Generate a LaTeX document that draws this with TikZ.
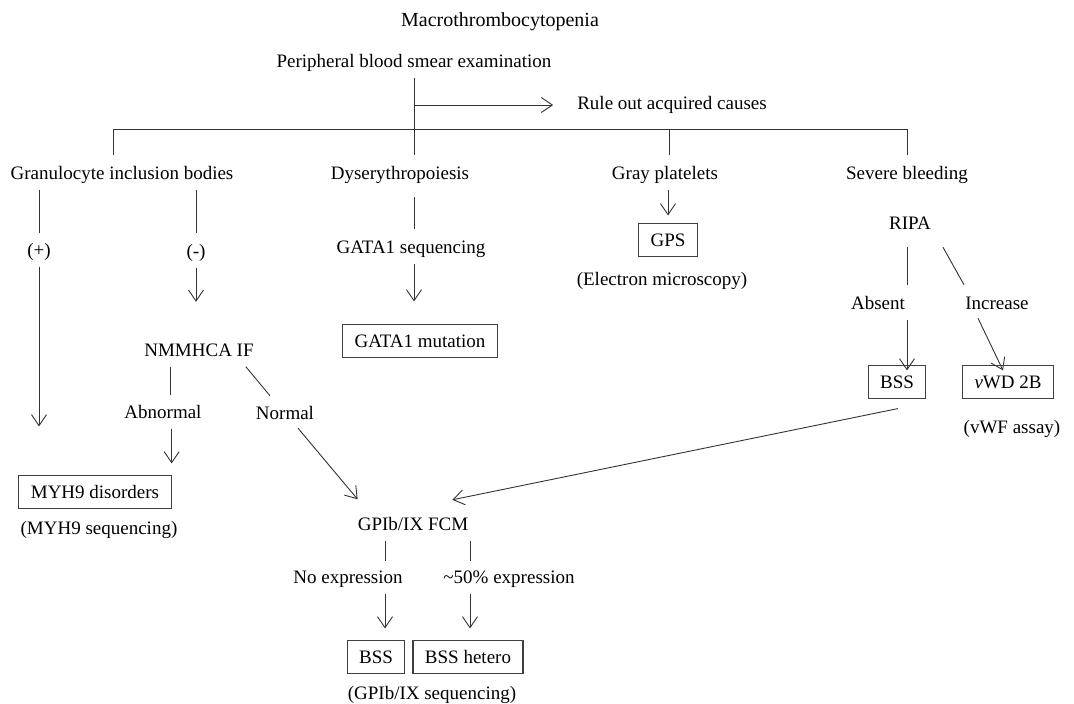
\documentclass[tikz,border=0pt]{standalone}
\usepackage{fontspec}
\setmainfont{Liberation Serif}
\usetikzlibrary{arrows.meta, positioning, calc}

\begin{document}
\begin{tikzpicture}[
    x=1pt, y=-1pt,
    lbl/.style={inner sep=6pt, text height=13pt, text depth=4pt, font=\fontsize{19}{22}\selectfont},
    box/.style={lbl, text depth=0pt, draw=black!75, line width=1.1pt, inner xsep=12pt, minimum height=33pt},
    line/.style={draw=black!80, line width=0.9pt},
    arrow/.style={line, -{Straight Barb[length=11pt, width=15pt]}}
]
\useasboundingbox (0,0) rectangle (1074,704);

% Top of the tree
\node[lbl, font=\fontsize{20}{22}\selectfont] (title) at (500,22) {Macrothrombocytopenia};
\node[lbl] (pbse) at (414,63) {Peripheral blood smear examination};
\node[lbl] (rule) at (672,105) {Rule out acquired causes};

% First findings
\node[lbl] (gib) at (122,175) {Granulocyte inclusion bodies};
\node[lbl] (dys) at (400,175) {Dyserythropoiesis};
\node[lbl] (gray) at (665,175) {Gray platelets};
\node[lbl] (sev) at (907,175) {Severe bleeding};

% Granulocyte inclusion bodies
\node[lbl] (plus) at (39,252) {(+)};
\node[lbl] (minus) at (196,253) {(-)};
\node[lbl] (nmm) at (199,352) {NMMHCA IF};
\node[lbl] (abn) at (163,414) {Abnormal};
\node[lbl] (normal) at (285,415) {Normal};
\node[box] (myh9) at (95,492) {MYH9 disorders};
\node[lbl] (myh9seq) at (99,530) {(MYH9 sequencing)};

% Dyserythropoiesis
\node[lbl] (gseq) at (411,249) {GATA1 sequencing};
\node[box] (gmut) at (420,341) {GATA1 mutation};

% Gray platelets
\node[box] (gps) at (668,240) {GPS};
\node[lbl] (elec) at (662,281) {(Electron microscopy)};

% Severe bleeding
\node[lbl] (ripa) at (910,225) {RIPA};
\node[lbl] (absent) at (878,305) {Absent};
\node[lbl] (incr) at (997,305) {Increase};
\node[box] (bssR) at (897,382) {BSS};
\node[box] (vwd) at (1008,382) {{\itshape v}WD 2B};
\node[lbl] (vwf) at (1012,429) {(vWF assay)};

% Flow cytometry
\node[lbl] (gpfcm) at (413,526) {GPIb/IX FCM};
\node[lbl] (noexp) at (348,579) {No expression};
\node[lbl] (fifty) at (509,579) {\textasciitilde50\% expression};
\node[box] (bssL) at (376,657) {BSS};
\node[box] (bssh) at (468,657) {BSS hetero};
\node[lbl] (gpseq) at (432,695) {(GPIb/IX sequencing)};

% Trunk and bus
\coordinate (busL) at (113,129);
\coordinate (busR) at (907,129);
\draw[line, shorten >=5pt] (pbse.south) -- (pbse.south |- dys.north);
\draw[arrow, shorten >=18pt] (pbse.south |- rule.west) -- (rule.west);
\draw[line, shorten <=5pt, shorten >=5pt] (busL |- gib.north) -- (busL) -- (busR) -- (busR |- sev.north);
\draw[line, shorten >=5pt] ($(gray.north |- busL)+(4,0)$) -- ($(gray.north)+(4,0)$);

% Left branch
\draw[line, shorten >=4.5pt] (plus.north |- gib.south) -- (plus.north);
\draw[arrow, shorten >=48.5pt] (plus.south) -- (plus.south |- myh9.north);
\draw[line, shorten >=5pt] (minus.north |- gib.south) -- (minus.north);
\draw[arrow, shorten >=35.5pt] (minus.south) -- (minus.south |- nmm.north);
\draw[line, shorten >=4.5pt] ($(nmm.south -| abn.north)+(7,0)$) -- ($(abn.north)+(7,0)$);
\draw[arrow, shorten >=11.5pt] (abn.south -| myh9.north east) -- (myh9.north east);
\draw[line] ($(nmm.south east)+(-14,0)$) -- ($(normal.north)+(-15,-4.5)$);
\draw[arrow] ($(normal.south)+(13,-1.5)$) -- ($(gpfcm.north west)+(6,-12)$);

% Middle branches
\draw[line, shorten <=7.5pt, shorten >=5.5pt] ($(gseq.north |- dys.south)+(3,0)$) -- ($(gseq.north)+(3,0)$);
\draw[arrow, shorten >=22.5pt] ($(gseq.south)+(3,0)$) -- ($(gseq.south |- gmut.north)+(3,0)$);
\draw[arrow, shorten >=7.5pt] (gray.south -| gps.north) -- (gps.north);

% Right branch
\draw[line, shorten <=7.5pt, shorten >=5.5pt] ($(ripa.south)+(-3,0)$) -- ($(ripa.south |- absent.north)+(-3,0)$);
\draw[line] ($(ripa.south east)+(6,7.5)$) -- ($(incr.north)+(-33,-5.5)$);
\draw[arrow, shorten >=-5.5pt] ($(absent.south -| bssR.north)+(10,0)$) -- ($(bssR.north)+(10,0)$);
\draw[arrow] ($(incr.south)+(-19,-1.5)$) -- ($(vwd.north)+(-5,5.5)$);
\draw[arrow] ($(bssR.south)+(1,9.5)$) -- ($(gpfcm.north east)+(-22,-11.5)$);

% GPIb/IX results
\draw[line, shorten >=3.5pt] ($(gpfcm.south)+(-28,0)$) -- ($(gpfcm.south |- noexp.north)+(-28,0)$);
\draw[line, shorten >=3.5pt] ($(gpfcm.south)+(57,0)$) -- ($(gpfcm.south |- fifty.north)+(57,0)$);
\draw[arrow, shorten >=11.5pt] ($(noexp.south -| bssL.north)+(9,0)$) -- ($(bssL.north)+(9,0)$);
\draw[arrow, shorten >=11.5pt] ($(fifty.south -| bssh.north)+(2,0)$) -- ($(bssh.north)+(2,0)$);

\end{tikzpicture}
\end{document}
